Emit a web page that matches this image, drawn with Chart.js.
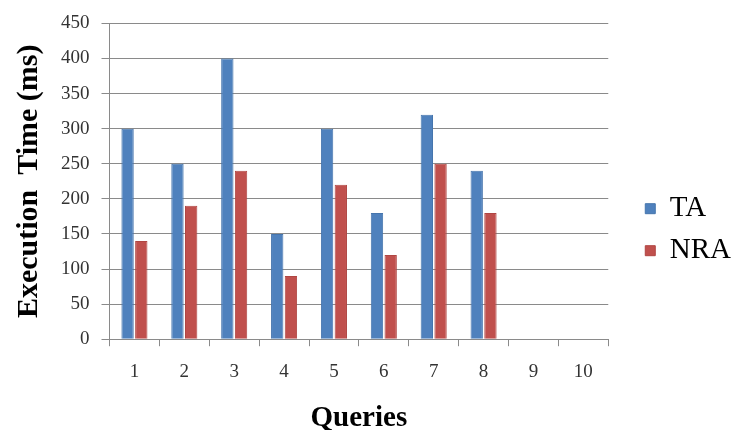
<!DOCTYPE html>
<html>
<head>
<meta charset="utf-8">
<script src="https://cdn.jsdelivr.net/npm/chart.js@4"></script>
<style>
  html, body { margin: 0; padding: 0; background: #fff; }
  #wrap { width: 732px; height: 430px; }
</style>
</head>
<body>
<div id="wrap"><canvas id="chart"></canvas></div>
<script>
const QUERIES = ['1', '2', '3', '4', '5', '6', '7', '8', '9', '10'];
const TA = [300, 250, 400, 150, 300, 180, 320, 240, null, null];
const NRA = [140, 190, 240, 90, 220, 120, 250, 180, null, null];

const SERIF = '"Liberation Serif", "Times New Roman", serif';
const GRID = '#8a8a8a';

// push the legend a bit away from the plot, like the original
const legendShift = {
    id: 'legendShift',
    afterLayout(chart) {
        chart.legend.left += 24;
        chart.legend.right += 24;
    }
};

new Chart(document.getElementById('chart'), {
    type: 'bar',
    data: {
        labels: QUERIES,
        datasets: [
            {
                label: 'TA',
                data: TA,
                backgroundColor: '#4F81BD',
                borderColor: '#4675ad',
                borderWidth: 1,
            },
            {
                label: 'NRA',
                data: NRA,
                backgroundColor: '#C0504D',
                borderColor: '#b04643',
                borderWidth: 1,
            },
        ]
    },
    options: {
        responsive: true,
        maintainAspectRatio: false,
        animation: false,
        categoryPercentage: 0.55,
        barPercentage: 0.9,
        layout: {
            padding: {left: 14, right: 15, top: 12, bottom: -3},
        },
        scales: {
            x: {
                offset: true,
                grid: {
                    offset: true,
                    drawOnChartArea: false,
                    drawTicks: true,
                    tickLength: 7,
                    color: GRID,
                },
                border: {color: GRID},
                ticks: {
                    color: '#333',
                    padding: 14,
                    font: {family: SERIF, size: 19},
                },
                title: {
                    display: true,
                    text: 'Queries',
                    color: '#000',
                    padding: {top: 7, bottom: 0},
                    font: {family: SERIF, size: 29, weight: 'bold', lineHeight: 1},
                },
            },
            y: {
                min: 0,
                max: 450,
                grid: {
                    color: GRID,
                    tickLength: 8,
                },
                border: {color: GRID},
                ticks: {
                    stepSize: 50,
                    color: '#333',
                    padding: 12,
                    font: {family: SERIF, size: 19},
                },
                title: {
                    display: true,
                    text: 'Execution  Time (ms)',
                    color: '#000',
                    padding: {top: 0, bottom: 5},
                    font: {family: SERIF, size: 30, weight: 'bold', lineHeight: 1},
                },
            },
        },
        plugins: {
            legend: {
                position: 'right',
                align: 'center',
                title: {
                    display: true,
                    text: '',
                    padding: {top: 0, bottom: 0},
                },
                labels: {
                    boxWidth: 10,
                    boxHeight: 10,
                    padding: 13,
                    color: '#000',
                    font: {family: SERIF, size: 29},
                },
            },
            tooltip: {enabled: false},
        }
    },
    plugins: [legendShift]
});
</script>
</body>
</html>
